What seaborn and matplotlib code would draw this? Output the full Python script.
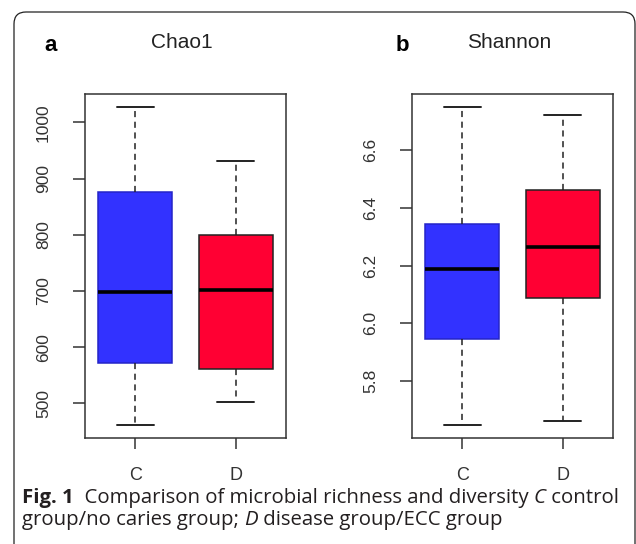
import matplotlib
matplotlib.use('Agg')
import matplotlib.pyplot as plt
import numpy as np
import pandas as pd
import seaborn as sns
from matplotlib.patches import FancyBboxPatch
from matplotlib.transforms import IdentityTransform
from matplotlib.ticker import FormatStrFormatter

# five-number summaries (min, Q1, median, Q3, max)
groups = ['C', 'D']
chao1_c = [461, 572, 698, 876, 1028]
chao1_d = [502, 561, 702, 800, 932]
shannon_c = [5.647, 5.944, 6.187, 6.344, 6.750]
shannon_d = [5.661, 6.087, 6.265, 6.463, 6.722]
chao1_ticks = [500, 600, 700, 800, 900, 1000]
shannon_ticks = [5.8, 6.0, 6.2, 6.4, 6.6]
box_colors = {'C': '#3232FF', 'D': '#FF0033'}
edge_colors = ['#2424C8', '#222222']

sns.set_theme(style='ticks')
plt.rcParams['font.family'] = ['Liberation Sans', 'DejaVu Sans']

fig = plt.figure(figsize=(6.36, 5.44), dpi=100)

# rounded frame around the figure panel
frame = FancyBboxPatch((14, -20), 621, 552, boxstyle='round,pad=0,rounding_size=12',
                       transform=IdentityTransform(), fill=False, edgecolor='#222222', linewidth=0.9)
fig.add_artist(frame)


def draw_panel(rect, c_vals, d_vals, ticks, fmt, title, letter, letter_x):
    ax = fig.add_axes(rect)
    df = pd.DataFrame({'group': ['C'] * len(c_vals) + ['D'] * len(d_vals),
                       'value': c_vals + d_vals})
    sns.boxplot(data=df, x='group', y='value', hue='group', palette=box_colors, legend=False,
                saturation=1, whis=(0, 100), width=0.74, linecolor='#222222', linewidth=1.1, ax=ax,
                whiskerprops=dict(linestyle=(0, (4, 3)), linewidth=1.1),
                capprops=dict(linewidth=1.4),
                medianprops=dict(color='black', linewidth=2.6))
    for patch, ec in zip(ax.patches, edge_colors):
        patch.set_edgecolor(ec)
    lo, hi = min(c_vals + d_vals), max(c_vals + d_vals)
    pad = 0.04 * (hi - lo)
    ax.set_ylim(lo - pad, hi + pad)
    ax.set_xlim(-0.5, 1.5)
    ax.set_yticks(ticks)
    ax.yaxis.set_major_formatter(FormatStrFormatter(fmt))
    for lab in ax.get_yticklabels():
        lab.set_rotation(90)
        lab.set_va('center')
    ax.tick_params(axis='y', length=8.5, width=1.1, color='#333333', pad=16,
                   labelsize=12.5, labelcolor='#333333')
    ax.tick_params(axis='x', length=8, width=1.1, color='#333333', pad=13,
                   labelsize=13, labelcolor='#333333')
    ax.set_xlabel('')
    ax.set_ylabel('')
    for sp in ax.spines.values():
        sp.set_visible(True)
        sp.set_color('#333333')
        sp.set_linewidth(1.1)
    x0 = rect[0] + rect[2] / 2 - 0.006
    fig.text(x0, 1 - 48 / 544, title, ha='center', va='baseline', fontsize=15, color='#222222')
    fig.text(letter_x, 1 - 51 / 544, letter, ha='left', va='baseline', fontsize=16,
             fontweight='bold', color='black')
    return ax


draw_panel([85 / 636, 1 - 438 / 544, 201 / 636, 344 / 544], chao1_c, chao1_d,
           chao1_ticks, '%d', 'Chao1', 'a', 44 / 636)
draw_panel([412 / 636, 1 - 438 / 544, 201 / 636, 344 / 544], shannon_c, shannon_d,
           shannon_ticks, '%.1f', 'Shannon', 'b', 396 / 636)

# caption, drawn piece by piece so the styles can change inside a line
cap_font = ['Open Sans', 'DejaVu Sans']
cap_size = 14.7
line1 = [('Fig. 1', 'bold', 'normal'), ('  Comparison of microbial richness and diversity ', 'normal', 'normal'),
         ('C', 'normal', 'italic'), (' control', 'normal', 'normal')]
line2 = [('group/no caries group; ', 'normal', 'normal'), ('D', 'normal', 'italic'),
         (' disease group/ECC group', 'normal', 'normal')]

fig.canvas.draw()
renderer = fig.canvas.get_renderer()
for pieces, base in [(line1, 503), (line2, 525)]:
    x = 22
    for txt, weight, style in pieces:
        t = fig.text(x / 636, 1 - base / 544, txt, ha='left', va='baseline', fontsize=cap_size,
                     family=cap_font, fontweight=weight, fontstyle=style, color='#231F20')
        bb = t.get_window_extent(renderer)
        x += bb.width

fig.savefig('out.png', dpi=100)
